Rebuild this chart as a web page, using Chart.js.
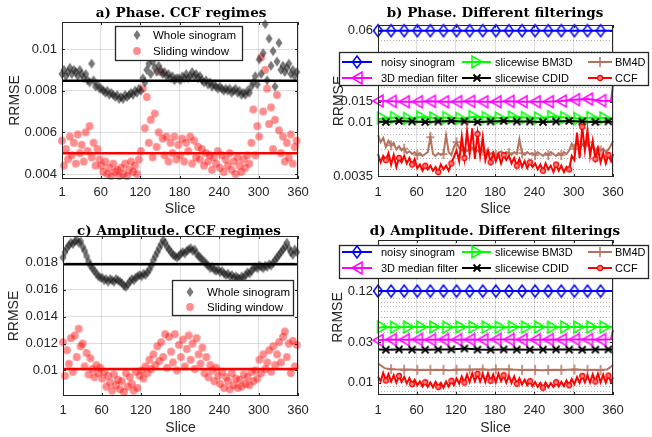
<!DOCTYPE html>
<html lang="en">
<head>
<meta charset="UTF-8">
<title>RRMSE per slice</title>
<style>
  body { margin: 0; background: #fff; }
  #fig { position: relative; width: 652px; height: 437px; overflow: hidden; background: #fff; }
  #fig canvas { position: absolute; }
  .ttl {
    position: absolute; width: 300px; line-height: 16px;
    font: bold 13.5px 'DejaVu Serif', serif; color: #000;
    text-align: center; white-space: nowrap;
  }
</style>
</head>
<body>
<div id="fig">
  <canvas id="cA" width="326" height="218" style="left:0;top:0"></canvas>
  <canvas id="cB" width="326" height="218" style="left:326px;top:0"></canvas>
  <canvas id="cC" width="326" height="219" style="left:0;top:218px"></canvas>
  <canvas id="cD" width="326" height="219" style="left:326px;top:218px"></canvas>
  <div class="ttl" style="left:31px;top:4px">a) Phase. CCF regimes</div>
  <div class="ttl" style="left:345px;top:4px">b) Phase. Different filterings</div>
  <div class="ttl" style="left:29px;top:222px">c) Amplitude. CCF regimes</div>
  <div class="ttl" style="left:345px;top:222px">d) Amplitude. Different filterings</div>
</div>

<script src="https://cdn.jsdelivr.net/npm/chart.js"></script>
<script>
  // ---- data ----
  const SLICE_TICKS = [1, 60, 120, 180, 240, 300, 360];

  // a) phase, CCF regimes - one value every 3rd slice (1, 4, ..., 358)
  const phaseWhole = [
    0.0088, 0.0090, 0.0087, 0.0089, 0.0091, 0.0088, 0.0090, 0.0089, 0.0087, 0.0090,
    0.0088, 0.0086, 0.0088, 0.0085, 0.0084, 0.0093, 0.0085, 0.0082, 0.0083, 0.0081,
    0.0081, 0.0080, 0.0079, 0.0080, 0.0078, 0.0079, 0.0078, 0.0077, 0.0078, 0.0076,
    0.0077, 0.0076, 0.0078, 0.0077, 0.0078, 0.0079, 0.0078, 0.0080, 0.0079, 0.0081,
    0.0080, 0.0086, 0.0084, 0.0090, 0.0093, 0.0088, 0.0094, 0.0091, 0.0089, 0.0092,
    0.0090, 0.0088, 0.0089, 0.0087, 0.0088, 0.0086, 0.0087, 0.0085, 0.0086, 0.0086,
    0.0085, 0.0087, 0.0086, 0.0088, 0.0086, 0.0087, 0.0089, 0.0087, 0.0088, 0.0086,
    0.0087, 0.0085, 0.0084, 0.0085, 0.0083, 0.0084, 0.0082, 0.0083, 0.0082, 0.0081,
    0.0082, 0.0081, 0.0080, 0.0081, 0.0080, 0.0081, 0.0079, 0.0080, 0.0081, 0.0079,
    0.0080, 0.0078, 0.0079, 0.0078, 0.0080, 0.0079, 0.0082, 0.0084, 0.0087, 0.0083,
    0.0095, 0.0088, 0.0098, 0.0112, 0.0085, 0.0105, 0.0092, 0.0099, 0.0082, 0.0094,
    0.0103, 0.0090, 0.0092, 0.0089, 0.0091, 0.0093, 0.0088, 0.0090, 0.0087, 0.0089
  ];
  const phaseSliding = [
    0.0056, 0.0044, 0.0052, 0.0047, 0.0058, 0.0049, 0.0055, 0.0045, 0.0059, 0.0050,
    0.0054, 0.0046, 0.0060, 0.0051, 0.0063, 0.0048, 0.0055, 0.0044, 0.0052, 0.0047,
    0.0044, 0.0041, 0.0046, 0.0040, 0.0043, 0.0039, 0.0045, 0.0041, 0.0042, 0.0039,
    0.0043, 0.0040, 0.0045, 0.0039, 0.0042, 0.0046, 0.0041, 0.0044, 0.0040, 0.0047,
    0.0051, 0.0081, 0.0062, 0.0077, 0.0055, 0.0066, 0.0048, 0.0069, 0.0053, 0.0060,
    0.0089, 0.0057, 0.0049, 0.0058, 0.0046, 0.0055, 0.0050, 0.0058, 0.0047, 0.0054,
    0.0049, 0.0057, 0.0046, 0.0055, 0.0051, 0.0058, 0.0045, 0.0056, 0.0048, 0.0053,
    0.0047, 0.0052, 0.0044, 0.0050, 0.0046, 0.0049, 0.0042, 0.0048, 0.0045, 0.0051,
    0.0043, 0.0049, 0.0041, 0.0047, 0.0044, 0.0050, 0.0042, 0.0046, 0.0040, 0.0048,
    0.0044, 0.0041, 0.0047, 0.0043, 0.0049, 0.0045, 0.0055, 0.0071, 0.0049, 0.0063,
    0.0058, 0.0096, 0.0070, 0.0090, 0.0081, 0.0064, 0.0072, 0.0052, 0.0066, 0.0078,
    0.0061, 0.0050, 0.0058, 0.0046, 0.0055, 0.0048, 0.0059, 0.0045, 0.0053, 0.0056
  ];
  const phaseWholeMean = 0.00848;
  const phaseSlidingMean = 0.0050;
  const phaseTicks = [0.004, 0.006, 0.008, 0.01];

  // c) amplitude, CCF regimes - same slices as a)
  const ampWhole = [
    0.0184, 0.0188, 0.0191, 0.0193, 0.0195, 0.0194, 0.0196, 0.0197, 0.0195, 0.0196,
    0.0192, 0.0189, 0.0185, 0.0181, 0.0178, 0.0176, 0.0174, 0.0172, 0.0170, 0.0169,
    0.0169, 0.0167, 0.0168, 0.0166, 0.0168, 0.0167, 0.0166, 0.0168, 0.0167, 0.0166,
    0.0165, 0.0163, 0.0162, 0.0164, 0.0166, 0.0168, 0.0167, 0.0169, 0.0170, 0.0171,
    0.0170, 0.0172, 0.0171, 0.0173, 0.0175, 0.0178, 0.0182, 0.0185, 0.0188, 0.0191,
    0.0194, 0.0197, 0.0195, 0.0192, 0.0190, 0.0188, 0.0186, 0.0185, 0.0184, 0.0185,
    0.0187, 0.0188, 0.0187, 0.0189, 0.0190, 0.0191, 0.0189, 0.0190, 0.0187, 0.0185,
    0.0184, 0.0182, 0.0181, 0.0179, 0.0178, 0.0176, 0.0177, 0.0175, 0.0174, 0.0175,
    0.0173, 0.0174, 0.0172, 0.0171, 0.0172, 0.0170, 0.0171, 0.0169, 0.0170, 0.0169,
    0.0168, 0.0170, 0.0169, 0.0171, 0.0173, 0.0172, 0.0174, 0.0176, 0.0177, 0.0176,
    0.0178, 0.0177, 0.0176, 0.0178, 0.0177, 0.0179, 0.0178, 0.0180, 0.0182, 0.0184,
    0.0186, 0.0188, 0.0190, 0.0192, 0.0195, 0.0191, 0.0188, 0.0186, 0.0190, 0.0188
  ];
  const ampSliding = [
    0.0121, 0.0096, 0.0115, 0.0105, 0.0124, 0.0099, 0.0126, 0.0110, 0.0131, 0.0118,
    0.0120, 0.0103, 0.0113, 0.0097, 0.0109, 0.0101, 0.0095, 0.0104, 0.0098, 0.0102,
    0.0094, 0.0099, 0.0088, 0.0096, 0.0091, 0.0085, 0.0097, 0.0089, 0.0093, 0.0086,
    0.0092, 0.0084, 0.0098, 0.0088, 0.0095, 0.0090, 0.0085, 0.0099, 0.0087, 0.0096,
    0.0100, 0.0094, 0.0103, 0.0098, 0.0108, 0.0101, 0.0112, 0.0104, 0.0118, 0.0107,
    0.0121, 0.0110, 0.0127, 0.0102, 0.0125, 0.0114, 0.0106, 0.0127, 0.0100, 0.0119,
    0.0110, 0.0123, 0.0103, 0.0116, 0.0126, 0.0108, 0.0120, 0.0101, 0.0124, 0.0112,
    0.0105, 0.0117, 0.0098, 0.0110, 0.0095, 0.0104, 0.0100, 0.0092, 0.0102, 0.0096,
    0.0090, 0.0099, 0.0087, 0.0095, 0.0092, 0.0086, 0.0098, 0.0089, 0.0094, 0.0087,
    0.0093, 0.0088, 0.0097, 0.0090, 0.0095, 0.0089, 0.0099, 0.0092, 0.0100, 0.0094,
    0.0108, 0.0098, 0.0112, 0.0101, 0.0106, 0.0115, 0.0099, 0.0118, 0.0104, 0.0112,
    0.0121, 0.0106, 0.0125, 0.0129, 0.0110, 0.0120, 0.0098, 0.0122, 0.0103, 0.0119
  ];
  const ampWholeMean = 0.0179;
  const ampSlidingMean = 0.0101;
  const ampTicks = [0.01, 0.012, 0.014, 0.016, 0.018];

  // b) phase, different filterings
  const phNoisy = [0.060, 0.060, 0.060, 0.060, 0.060, 0.060, 0.060, 0.060, 0.060, 0.060,
                   0.060, 0.060, 0.060, 0.060, 0.060, 0.060, 0.060, 0.060, 0.060];
  const phMedian = [0.0152, 0.0151, 0.0150, 0.0150, 0.0151, 0.0150, 0.0150, 0.0151, 0.0150, 0.0150,
                    0.0151, 0.0150, 0.0150, 0.0150, 0.0152, 0.0156, 0.0158, 0.0153, 0.0152, 0.0210];
  const phBM3D = [0.0106, 0.0109, 0.0110, 0.0108, 0.0111, 0.0109, 0.0110, 0.0108, 0.0112, 0.0110,
                  0.0109, 0.0111, 0.0110, 0.0109, 0.0112, 0.0110, 0.0108, 0.0110, 0.0109, 0.0107];
  const phCDID = [0.0102, 0.0101, 0.0103, 0.0102, 0.0101, 0.0102, 0.0103, 0.0102, 0.0101, 0.0102,
                  0.0103, 0.0102, 0.0102, 0.0101, 0.0102, 0.0103, 0.0102, 0.0101, 0.0102, 0.0101];
  const phBM4D = [
    0.0078, 0.0068, 0.0074, 0.0062, 0.0070, 0.0064, 0.0067, 0.0059, 0.0063, 0.0058,
    0.0060, 0.0055, 0.0057, 0.0054, 0.0056, 0.0053, 0.0055, 0.0052, 0.0054, 0.0056,
    0.0075, 0.0054, 0.0052, 0.0055, 0.0053, 0.0054, 0.0078, 0.0056, 0.0053, 0.0062,
    0.0068, 0.0061, 0.0058, 0.0060, 0.0057, 0.0059, 0.0061, 0.0057, 0.0058, 0.0056,
    0.0058, 0.0055, 0.0057, 0.0054, 0.0056, 0.0053, 0.0055, 0.0057, 0.0054, 0.0056,
    0.0055, 0.0053, 0.0056, 0.0054, 0.0072, 0.0055, 0.0053, 0.0056, 0.0054, 0.0055,
    0.0053, 0.0056, 0.0054, 0.0052, 0.0055, 0.0053, 0.0056, 0.0054, 0.0052, 0.0055,
    0.0053, 0.0056, 0.0054, 0.0058, 0.0066, 0.0060, 0.0070, 0.0058, 0.0066, 0.0062,
    0.0068, 0.0059, 0.0065, 0.0057, 0.0062, 0.0058, 0.0060, 0.0056, 0.0059, 0.0064,
    0.0070
  ];
  const phCCF = [
    0.0054, 0.0046, 0.0052, 0.0048, 0.0055, 0.0044, 0.0053, 0.0042, 0.0050, 0.0046,
    0.0052, 0.0045, 0.0050, 0.0044, 0.0049, 0.0041, 0.0044, 0.0039, 0.0043, 0.0040,
    0.0043, 0.0039, 0.0042, 0.0038, 0.0044, 0.0040, 0.0043, 0.0039, 0.0045, 0.0051,
    0.0058, 0.0047, 0.0076, 0.0050, 0.0085, 0.0055, 0.0089, 0.0049, 0.0080, 0.0052,
    0.0075, 0.0048, 0.0058, 0.0046, 0.0055, 0.0047, 0.0054, 0.0045, 0.0053, 0.0048,
    0.0052, 0.0045, 0.0050, 0.0043, 0.0049, 0.0042, 0.0047, 0.0041, 0.0046, 0.0042,
    0.0045, 0.0040, 0.0044, 0.0039, 0.0045, 0.0040, 0.0043, 0.0038, 0.0044, 0.0039,
    0.0043, 0.0038, 0.0042, 0.0040, 0.0052, 0.0048, 0.0082, 0.0050, 0.0092, 0.0058,
    0.0086, 0.0052, 0.0070, 0.0049, 0.0060, 0.0046, 0.0055, 0.0045, 0.0053, 0.0047,
    0.0054
  ];
  const phTicks = [0.0035, 0.01, 0.015, 0.06];
  const phMinor = [0.004, 0.005, 0.006, 0.007, 0.008, 0.009, 0.02, 0.03, 0.04, 0.05];

  // d) amplitude, different filterings
  const amNoisy = [0.120, 0.120, 0.120, 0.120, 0.120, 0.120, 0.120, 0.120, 0.120, 0.120,
                   0.120, 0.120, 0.120, 0.120, 0.120, 0.120, 0.120, 0.120, 0.120];
  const amMedian = [0.0315, 0.0322, 0.0320, 0.0323, 0.0321, 0.0322, 0.0320, 0.0322, 0.0321, 0.0323,
                    0.0322, 0.0321, 0.0320, 0.0322, 0.0321, 0.0323, 0.0322, 0.0321, 0.0325, 0.0420];
  const amBM3D = [0.0440, 0.0452, 0.0450, 0.0453, 0.0451, 0.0452, 0.0450, 0.0453, 0.0451, 0.0452,
                  0.0450, 0.0452, 0.0451, 0.0453, 0.0450, 0.0452, 0.0451, 0.0453, 0.0452, 0.0455];
  const amCDID = [0.0245, 0.0244, 0.0246, 0.0245, 0.0244, 0.0245, 0.0246, 0.0252, 0.0245, 0.0244,
                  0.0246, 0.0245, 0.0244, 0.0245, 0.0246, 0.0245, 0.0244, 0.0245, 0.0246, 0.0245];
  const amBM4D = [
    0.0168, 0.0148, 0.0144, 0.0143, 0.0142, 0.0143, 0.0141, 0.0142, 0.0141, 0.0142,
    0.0141, 0.0140, 0.0142, 0.0143, 0.0142, 0.0144, 0.0143, 0.0142, 0.0143, 0.0144,
    0.0143, 0.0142, 0.0141, 0.0142, 0.0141, 0.0140, 0.0141, 0.0142, 0.0141, 0.0142,
    0.0143, 0.0142, 0.0141, 0.0142, 0.0141, 0.0143, 0.0160
  ];
  const amCCF = [
    0.0118, 0.0104, 0.0130, 0.0106, 0.0126, 0.0103, 0.0122, 0.0100, 0.0120, 0.0102,
    0.0117, 0.0098, 0.0113, 0.0096, 0.0108, 0.0093, 0.0103, 0.0090, 0.0101, 0.0089,
    0.0100, 0.0088, 0.0102, 0.0089, 0.0099, 0.0087, 0.0103, 0.0090, 0.0105, 0.0093,
    0.0112, 0.0097, 0.0118, 0.0100, 0.0124, 0.0102, 0.0128, 0.0104, 0.0127, 0.0103,
    0.0126, 0.0102, 0.0129, 0.0105, 0.0125, 0.0101, 0.0127, 0.0104, 0.0122, 0.0100,
    0.0120, 0.0099, 0.0118, 0.0097, 0.0112, 0.0095, 0.0108, 0.0093, 0.0104, 0.0091,
    0.0101, 0.0089, 0.0099, 0.0087, 0.0100, 0.0088, 0.0098, 0.0089, 0.0101, 0.0090,
    0.0102, 0.0091, 0.0106, 0.0093, 0.0110, 0.0096, 0.0116, 0.0099, 0.0120, 0.0101,
    0.0122, 0.0100, 0.0125, 0.0103, 0.0127, 0.0101, 0.0124, 0.0100, 0.0121, 0.0102,
    0.0115
  ];
  const amTicks = [0.01, 0.03, 0.12];
  const amMinor = [0.008, 0.009, 0.02, 0.04, 0.05, 0.06, 0.07, 0.08, 0.09, 0.1, 0.2, 0.3, 0.4];

  // slice numbers the values above belong to
  function slices(first, step, last) {
    const s = [];
    for (let v = first; v <= last; v += step) s.push(v);
    return s;
  }
  const xScatter = slices(1, 3, 358);
  const xNoisy = slices(1, 20, 341).concat([360]);
  const xMedian = slices(1, 20, 341).concat([357, 360]);
  const xBM3D = [1].concat(slices(8, 20, 348), [360]);
  const xCDID = [1].concat(slices(13, 20, 353), [360]);
  const xEvery10 = slices(1, 10, 351).concat([360]);
  const xEvery4 = slices(1, 4, 357).concat([360]);

  // ---- styling ----
  const INK = '#262626';
  const GRID = 'rgba(0,0,0,0.13)';
  const TICK_FONT = { family: "'Liberation Sans', Arial, sans-serif", size: 13 };
  const LABEL_FONT = { family: "'Liberation Sans', Arial, sans-serif", size: 14 };

  function marker(w, h, draw) {
    const c = document.createElement('canvas');
    c.width = w; c.height = h;
    draw(c.getContext('2d'), w / 2, h / 2);
    return c;
  }
  function poly(g, pts) {
    g.beginPath();
    g.moveTo(pts[0][0], pts[0][1]);
    pts.slice(1).forEach(p => g.lineTo(p[0], p[1]));
    g.closePath();
  }
  const mkDiamond = marker(12, 16, (g, x, y) => {
    poly(g, [[x, y - 6], [x + 4.5, y], [x, y + 6], [x - 4.5, y]]);
    g.strokeStyle = '#0000ff'; g.lineWidth = 1.5; g.stroke();
  });
  const mkLeft = marker(14, 16, (g, x, y) => {
    poly(g, [[x - 5, y], [x + 5, y - 6], [x + 5, y + 6]]);
    g.strokeStyle = '#ff00ff'; g.lineWidth = 1.5; g.stroke();
  });
  const mkRight = marker(14, 16, (g, x, y) => {
    poly(g, [[x + 5, y], [x - 5, y - 6], [x - 5, y + 6]]);
    g.strokeStyle = '#00ff00'; g.lineWidth = 1.5; g.stroke();
  });
  const mkX = marker(10, 10, (g, x, y) => {
    g.beginPath();
    g.moveTo(x - 3.5, y - 3.5); g.lineTo(x + 3.5, y + 3.5);
    g.moveTo(x + 3.5, y - 3.5); g.lineTo(x - 3.5, y + 3.5);
    g.strokeStyle = '#000'; g.lineWidth = 1.8; g.stroke();
  });
  const mkPlus = marker(10, 12, (g, x, y) => {
    g.beginPath();
    g.moveTo(x, y - 5); g.lineTo(x, y + 5);
    g.moveTo(x - 4, y); g.lineTo(x + 4, y);
    g.strokeStyle = '#b5735f'; g.lineWidth = 1.5; g.stroke();
  });
  const mkCCF = marker(8, 8, (g, x, y) => {
    g.beginPath(); g.arc(x, y, 2.5, 0, Math.PI * 2);
    g.fillStyle = '#ff8a8a'; g.fill();
    g.strokeStyle = '#ff0000'; g.lineWidth = 1.3; g.stroke();
  });
  const mkWhole = marker(10, 12, (g, x, y) => {
    poly(g, [[x, y - 5], [x + 3.5, y], [x, y + 5], [x - 3.5, y]]);
    g.fillStyle = 'rgba(30,30,30,0.6)'; g.fill();
  });
  const mkSliding = marker(10, 10, (g, x, y) => {
    g.beginPath(); g.arc(x, y, 3.9, 0, Math.PI * 2);
    g.fillStyle = 'rgba(255,0,0,0.45)'; g.fill();
  });

  // ---- plugins ----
  const minorGrid = {
    id: 'minorGrid',
    beforeDatasetsDraw(chart, args, opts) {
      const { ctx, chartArea: a, scales: { y } } = chart;
      ctx.save();
      ctx.strokeStyle = 'rgba(0,0,0,0.3)';
      ctx.lineWidth = 1;
      ctx.setLineDash([1, 2]);
      (opts.values || []).forEach(v => {
        const py = Math.round(y.getPixelForValue(v)) + 0.5;
        ctx.beginPath(); ctx.moveTo(a.left, py); ctx.lineTo(a.right, py); ctx.stroke();
      });
      ctx.restore();
    }
  };

  const frame = {
    id: 'frame',
    afterDatasetsDraw(chart) {
      const { ctx, chartArea: a, scales: { x, y } } = chart;
      ctx.save();
      ctx.strokeStyle = INK;
      ctx.lineWidth = 1;
      ctx.strokeRect(a.left + 0.5, a.top + 0.5, a.width - 1, a.height - 1);
      ctx.beginPath();
      x.ticks.forEach(t => {
        const px = Math.round(x.getPixelForValue(t.value)) + 0.5;
        ctx.moveTo(px, a.bottom); ctx.lineTo(px, a.bottom - 3);
        ctx.moveTo(px, a.top); ctx.lineTo(px, a.top + 3);
      });
      y.ticks.forEach(t => {
        const py = Math.round(y.getPixelForValue(t.value)) + 0.5;
        ctx.moveTo(a.left, py); ctx.lineTo(a.left + 3, py);
        ctx.moveTo(a.right, py); ctx.lineTo(a.right - 3, py);
      });
      ctx.stroke();
      ctx.restore();
    }
  };

  const boxLegend = {
    id: 'boxLegend',
    afterDraw(chart, args, o) {
      if (!o.box) return;
      const g = chart.ctx;
      const [bx, by, bw, bh] = o.box;
      g.save();
      g.fillStyle = '#fff';
      g.fillRect(bx, by, bw, bh);
      g.strokeStyle = INK;
      g.lineWidth = 1.3;
      g.strokeRect(bx + 0.5, by + 0.5, bw, bh);
      g.font = o.font;
      g.textBaseline = 'middle';
      o.items.forEach(it => {
        if (it.color) {
          g.strokeStyle = it.color; g.lineWidth = 2;
          g.beginPath(); g.moveTo(it.x0, it.y); g.lineTo(it.x1, it.y); g.stroke();
        }
        const mx = it.mx !== undefined ? it.mx : (it.x0 + it.x1) / 2;
        g.drawImage(it.mark, Math.round(mx - it.mark.width / 2), Math.round(it.y - it.mark.height / 2));
        g.fillStyle = '#000';
        g.fillText(it.label, it.tx, it.y + 0.5);
      });
      g.restore();
    }
  };

  // ---- builders ----
  const pts = (xs, ys) => xs.map((x, i) => ({ x: x, y: ys[i] }));

  function series(label, xs, ys, color, mark, marks, order) {
    const at = new Set(marks);
    return {
      label: label, data: pts(xs, ys), borderColor: color, borderWidth: 2,
      pointStyle: mark, pointRadius: c => (c.raw && at.has(c.raw.x) ? 3 : 0),
      clip: false, order: order, tension: 0
    };
  }
  function cloud(label, xs, ys, mark, order) {
    return { label: label, data: pts(xs, ys), showLine: false, pointStyle: mark, pointRadius: 3, clip: false, order: order };
  }
  function meanLine(value, color, order) {
    return { data: [{ x: 1, y: value }, { x: 360, y: value }], borderColor: color, borderWidth: 2.5, pointRadius: 0, order: order };
  }

  function makeChart(id, o) {
    return new Chart(document.getElementById(id), {
      type: 'line',
      data: { datasets: o.datasets },
      options: {
        responsive: false, animation: false, events: [], devicePixelRatio: 1,
        layout: { padding: { left: 0, top: o.top, right: o.right, bottom: 0 } },
        scales: {
          x: {
            type: 'linear', min: 1, max: 360,
            afterBuildTicks: s => { s.ticks = SLICE_TICKS.map(v => ({ value: v })); },
            afterFit: s => { s.height = o.xh; s.paddingLeft = 0; s.paddingRight = 0; },
            ticks: { font: TICK_FONT, color: INK, padding: o.xpad, autoSkip: false, maxRotation: 0, callback: v => String(v) },
            grid: { color: GRID, drawTicks: false },
            border: { display: false },
            title: { display: true, text: 'Slice', font: LABEL_FONT, color: INK, padding: { top: 0, bottom: o.xtpad } }
          },
          y: {
            type: o.log ? 'logarithmic' : 'linear', min: o.ymin, max: o.ymax,
            afterBuildTicks: s => { s.ticks = o.yticks.map(v => ({ value: v })); },
            afterFit: s => { s.width = o.yw; s.paddingTop = 0; s.paddingBottom = 0; },
            ticks: { font: TICK_FONT, color: INK, padding: 5, autoSkip: false, callback: v => String(v) },
            grid: { color: GRID, drawTicks: false },
            border: { display: false },
            title: { display: true, text: 'RRMSE', font: LABEL_FONT, color: INK, padding: { top: o.ytpad, bottom: 0 } }
          }
        },
        plugins: {
          legend: { display: false },
          tooltip: { enabled: false },
          minorGrid: { values: o.minor || [] },
          boxLegend: o.legend
        }
      },
      plugins: [minorGrid, frame, boxLegend]
    });
  }

  // legends of b) and d) share the column layout
  function filterLegend(top, r1, r2) {
    const cols = [{ x0: 16, x1: 46, tx: 55 }, { x0: 136, x1: 165, tx: 169 }, { x0: 262, x1: 286, tx: 289 }];
    const item = (c, y, label, color, mark) => Object.assign({ y: y, label: label, color: color, mark: mark }, cols[c]);
    return {
      box: [13, top, 309, 33], font: "11px 'Liberation Sans', Arial, sans-serif",
      items: [
        item(0, r1, 'noisy sinogram', '#0000ff', mkDiamond),
        item(1, r1, 'slicewise BM3D', '#00ff00', mkRight),
        item(2, r1, 'BM4D', '#b5735f', mkPlus),
        item(0, r2, '3D median filter', '#ff00ff', mkLeft),
        item(1, r2, 'slicewise CDID', '#000000', mkX),
        item(2, r2, 'CCF', '#ff0000', mkCCF)
      ]
    };
  }

  function filterSets(noisy, median, bm3d, cdid, bm4d, bm4dX, ccf) {
    return [
      series('CCF', xEvery4, ccf, '#ff0000', mkCCF, slices(13, 20, 353), 1),
      series('BM4D', bm4dX, bm4d, '#b5735f', mkPlus, slices(21, 20, 341), 2),
      series('slicewise CDID', xCDID, cdid, '#000000', mkX, slices(13, 20, 353), 3),
      series('slicewise BM3D', xBM3D, bm3d, '#00ff00', mkRight, slices(8, 20, 348), 4),
      series('3D median filter', xMedian, median, '#ff00ff', mkLeft, slices(1, 20, 341), 5),
      series('noisy sinogram', xNoisy, noisy, '#0000ff', mkDiamond, slices(1, 20, 341), 6)
    ];
  }

  makeChart('cA', {
    top: 22, right: 28, xh: 39, yw: 62, xpad: 6, xtpad: 0, ytpad: 7,
    ymin: 0.00376, ymax: 0.0113, yticks: phaseTicks,
    datasets: [
      meanLine(phaseWholeMean, '#000000', 1),
      meanLine(phaseSlidingMean, '#ff0000', 2),
      cloud('Whole sinogram', xScatter, phaseWhole, mkWhole, 3),
      cloud('Sliding window', xScatter, phaseSliding, mkSliding, 4)
    ],
    legend: {
      box: [115, 26, 127, 34], font: "11.5px 'Liberation Sans', Arial, sans-serif",
      items: [
        { label: 'Whole sinogram', mark: mkWhole, mx: 137, y: 35, tx: 153 },
        { label: 'Sliding window', mark: mkSliding, mx: 137, y: 51, tx: 153 }
      ]
    }
  });

  makeChart('cB', {
    top: 25, right: 39, xh: 41, yw: 52, xpad: 8, xtpad: 0, ytpad: 4.6,
    log: true, ymin: 0.00345, ymax: 0.067, yticks: phTicks, minor: phMinor,
    datasets: filterSets(phNoisy, phMedian, phBM3D, phCDID, phBM4D, xEvery4, phCCF),
    legend: filterLegend(52, 62, 78)
  });

  makeChart('cC', {
    top: 18, right: 28, xh: 41, yw: 63, xpad: 7, xtpad: 0.6, ytpad: 5.6,
    ymin: 0.0081, ymax: 0.02, yticks: ampTicks,
    datasets: [
      meanLine(ampWholeMean, '#000000', 1),
      meanLine(ampSlidingMean, '#ff0000', 2),
      cloud('Whole sinogram', xScatter, ampWhole, mkWhole, 3),
      cloud('Sliding window', xScatter, ampSliding, mkSliding, 4)
    ],
    legend: {
      box: [172, 62, 121, 35], font: "11.5px 'Liberation Sans', Arial, sans-serif",
      items: [
        { label: 'Whole sinogram', mark: mkWhole, mx: 190, y: 74, tx: 207 },
        { label: 'Sliding window', mark: mkSliding, mx: 190, y: 89, tx: 207 }
      ]
    }
  });

  makeChart('cD', {
    top: 22, right: 39, xh: 42, yw: 52, xpad: 8, xtpad: 0.6, ytpad: 3.3,
    log: true, ymin: 0.00714, ymax: 0.48, yticks: amTicks, minor: amMinor,
    datasets: filterSets(amNoisy, amMedian, amBM3D, amCDID, amBM4D, xEvery10, amCCF),
    legend: filterLegend(27, 34, 50)
  });
</script>
</body>
</html>
